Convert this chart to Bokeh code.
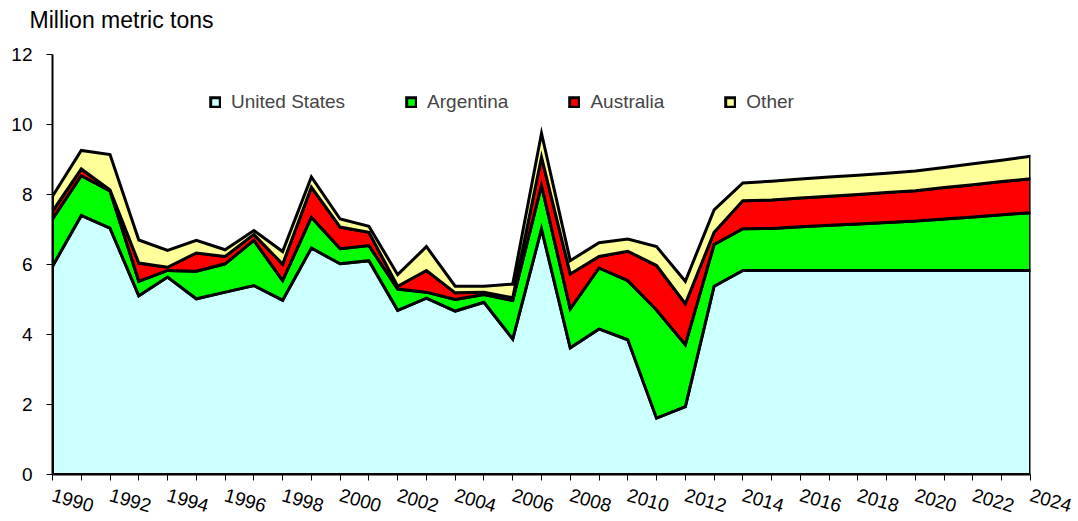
import numpy as np
from bokeh.plotting import figure
from bokeh.models import FixedTicker, Legend, LegendItem, Range1d, LinearAxis
from bokeh.embed import file_html
from bokeh.resources import INLINE

# ---- data (million metric tons) ----
years = list(range(1990, 2025))
us = [5.95, 7.40, 7.04, 5.11, 5.64, 5.02, 5.21, 5.40, 4.98, 6.47,
      6.02, 6.11, 4.69, 5.04, 4.67, 4.92, 3.87, 7.02, 3.62, 4.16,
      3.85, 1.61, 1.94, 5.38, 5.83, 5.83, 5.83, 5.83, 5.83, 5.83,
      5.83, 5.83, 5.83, 5.83, 5.83]
argentina = [1.35, 1.14, 1.06, 0.41, 0.19, 0.79, 0.81, 1.29, 0.56, 0.88,
             0.43, 0.43, 0.61, 0.17, 0.33, 0.22, 1.10, 1.24, 1.11, 1.74,
             1.69, 3.09, 1.77, 1.19, 1.19, 1.20, 1.25, 1.29, 1.33, 1.37,
             1.41, 1.47, 1.53, 1.59, 1.65]
australia = [0.22, 0.19, 0.03, 0.52, 0.09, 0.52, 0.21, 0.17, 0.47, 0.86,
             0.62, 0.38, 0.08, 0.62, 0.19, 0.07, 0.08, 0.81, 1.00, 0.33,
             0.84, 1.27, 1.17, 0.35, 0.80, 0.81, 0.82, 0.83, 0.84, 0.86,
             0.87, 0.90, 0.92, 0.95, 0.97]
other = [0.43, 0.53, 1.01, 0.66, 0.48, 0.36, 0.19, 0.11, 0.36, 0.29,
         0.23, 0.17, 0.33, 0.68, 0.19, 0.17, 0.39, 0.68, 0.38, 0.39,
         0.35, 0.54, 0.64, 0.64, 0.51, 0.54, 0.54, 0.55, 0.55, 0.55,
         0.56, 0.57, 0.60, 0.61, 0.64]
series_names = ["United States", "Argentina", "Australia", "Other"]
series_colors = ["#CCFFFF", "#00FF00", "#FF0000", "#FFFF99"]
x_tick_labels = ["1990", "1992", "1994", "1996", "1998", "2000", "2002", "2004", "2006",
                 "2008", "2010", "2012", "2014", "2016", "2018", "2020", "2022", "2024"]
y_ticks = [0, 2, 4, 6, 8, 10, 12]
y_title = "Million metric tons"

FONT = "Liberation Sans"

p = figure(width=1078, height=521, output_backend="svg", toolbar_location=None,
           x_range=Range1d(years[0], years[-1]), y_range=Range1d(0, 12),
           min_border_left=52, min_border_top=54, min_border_right=48, min_border_bottom=47)
p.outline_line_color = None
p.grid.visible = False
p.background_fill_color = "white"

# stacked areas as outlined patches
xs = np.array(years, dtype=float)
bottom = np.zeros(len(years))
items = []
for name, col, vals in zip(series_names, series_colors, [us, argentina, australia, other]):
    top = bottom + np.array(vals)
    px = np.concatenate([xs, xs[::-1]])
    py = np.concatenate([top, bottom[::-1]])
    r = p.patch(px, py, fill_color=col, line_color="black", line_width=3, line_join="miter")
    items.append(LegendItem(label=name, renderers=[r]))
    bottom = top

legend = Legend(items=items, orientation="horizontal", location=(157, 361),
                spacing=60, glyph_width=12, glyph_height=12, label_standoff=10,
                padding=0, margin=0, border_line_alpha=0, background_fill_alpha=0,
                label_text_font=FONT, label_text_font_size="19px", label_height=20)
p.add_layout(legend)

# axes
xax = p.below[0]
yax = p.left[0]
overrides = {y: "" for y in years}
for lab in x_tick_labels:
    overrides[int(lab)] = lab
xax.ticker = FixedTicker(ticks=years)
xax.major_label_overrides = overrides
xax.major_label_orientation = -0.28
xax.minor_tick_line_color = None
yax.ticker = FixedTicker(ticks=y_ticks)
yax.minor_tick_line_color = None
for ax in (xax, yax):
    ax.axis_line_color = "black"
    ax.axis_line_width = 2
    ax.major_tick_line_color = "black"
    ax.major_tick_line_width = 1
    ax.major_tick_out = 6
    ax.major_tick_in = 0
    ax.major_label_text_font = FONT
    ax.major_label_text_font_size = "19px"
    ax.major_label_text_color = "black"
yax.major_label_standoff = 14
xax.major_label_standoff = 14

# unit text above the value axis (an unlined axis with one labelled tick)
title_pos = 1992.4
unit_axis = LinearAxis(ticker=FixedTicker(ticks=[title_pos]),
                       major_label_overrides={title_pos: y_title},
                       axis_line_color=None, major_tick_line_color=None,
                       minor_tick_line_color=None, major_tick_out=0, major_tick_in=0,
                       major_label_standoff=22, major_label_text_font=FONT,
                       major_label_text_font_size="23px", major_label_text_color="black")
p.add_layout(unit_axis, "above")

open("out.html", "w").write(file_html(p, INLINE))
